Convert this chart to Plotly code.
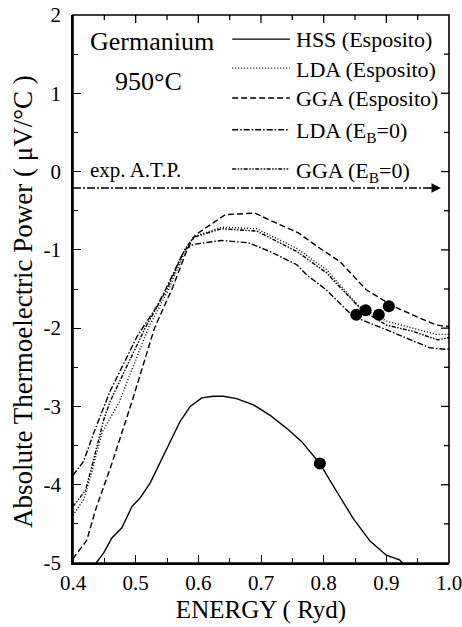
import plotly.graph_objects as go

# ---------------- data ----------------
HSS_X = [0.437, 0.449, 0.462, 0.478, 0.494, 0.507, 0.523, 0.550, 0.571, 0.587, 0.6055, 0.624, 0.640, 0.661,
         0.688, 0.714, 0.741, 0.765, 0.794, 0.821, 0.847, 0.874, 0.900, 0.921, 0.926]
HSS_Y = [-5.0, -4.87, -4.68, -4.55, -4.28, -4.17, -3.98, -3.53, -3.19, -3.0, -2.89, -2.87, -2.87, -2.90,
         -2.98, -3.11, -3.28, -3.45, -3.73, -4.09, -4.43, -4.72, -4.90, -4.96, -5.0]

LDA_ESP_X = [0.40, 0.417, 0.428, 0.446, 0.474, 0.520, 0.553, 0.580, 0.593, 0.637, 0.693, 0.757, 0.804,
             0.856, 0.900, 0.942, 0.980, 1.0]
LDA_ESP_Y = [-4.39, -4.19, -3.90, -3.34, -2.94, -2.0, -1.5, -1.0, -0.83, -0.71, -0.73, -0.98, -1.25,
             -1.72, -1.91, -2.00, -2.08, -2.08]

GGA_ESP_X = [0.40, 0.404, 0.422, 0.436, 0.462, 0.494, 0.530, 0.558, 0.582, 0.595, 0.643, 0.690, 0.725,
             0.759, 0.794, 0.826, 0.868, 0.911, 0.953, 0.980, 1.0]
GGA_ESP_Y = [-4.95, -4.90, -4.71, -4.32, -3.73, -2.94, -2.0, -1.5, -1.0, -0.81, -0.55, -0.53, -0.66,
             -0.78, -0.98, -1.15, -1.51, -1.72, -1.87, -1.96, -1.98]

LDA_EB0_X = [0.40, 0.417, 0.433, 0.454, 0.459, 0.502, 0.534, 0.548, 0.578, 0.592, 0.637, 0.680, 0.714,
             0.757, 0.773, 0.804, 0.847, 0.900, 0.926, 0.969, 0.993, 1.0]
LDA_EB0_Y = [-3.88, -3.70, -3.34, -2.92, -2.81, -2.11, -1.72, -1.5, -1.0, -0.93, -0.88, -0.91, -1.02,
             -1.19, -1.32, -1.51, -1.85, -2.02, -2.11, -2.25, -2.27, -2.27]

GGA_EB0_X = [0.40, 0.420, 0.430, 0.449, 0.459, 0.515, 0.550, 0.578, 0.592, 0.637, 0.693, 0.757, 0.804,
             0.861, 0.900, 0.942, 0.982, 1.0]
GGA_EB0_Y = [-4.28, -4.07, -3.77, -3.17, -2.94, -2.0, -1.5, -1.0, -0.84, -0.73, -0.76, -1.02, -1.29,
             -1.77, -1.96, -2.04, -2.15, -2.12]

DOT_X = [0.794, 0.852, 0.867, 0.888, 0.904]
DOT_Y = [-3.73, -1.83, -1.77, -1.83, -1.72]

EXP_X = [0.40, 0.975]
EXP_Y = [-0.21, -0.21]

X_RANGE = [0.4, 1.0]
Y_RANGE = [-5, 2]
X_TICKS = [0.4, 0.5, 0.6, 0.7, 0.8, 0.9, 1.0]
X_TICKTEXT = ["0.4", "0.5", "0.6", "0.7", "0.8", "0.9", "1.0"]
Y_TICKS = [-5, -4, -3, -2, -1, 0, 1, 2]
Y_TICKTEXT = ["-5", "-4", "-3", "-2", "-1", "0", "1", "2"]

LEGEND_LABELS = ["HSS (Esposito)", "LDA (Esposito)", "GGA (Esposito)",
                 "LDA (E<sub>B</sub>=0)", "GGA (E<sub>B</sub>=0)"]

# ---------------- styles ----------------
FONT = "Liberation Serif, Times New Roman, serif"
LW = 1.4
DASHES = ["solid", "1px,2px", "6px,3px", "6px,2px,1.5px,2px", "4px,1.5px,1.5px,1.5px,1.5px,1.5px"]
SERIES = [(HSS_X, HSS_Y), (LDA_ESP_X, LDA_ESP_Y), (GGA_ESP_X, GGA_ESP_Y),
          (LDA_EB0_X, LDA_EB0_Y), (GGA_EB0_X, GGA_EB0_Y)]

fig = go.Figure()
for (xs, ys), dash, name in zip(SERIES, DASHES, LEGEND_LABELS):
    fig.add_trace(go.Scatter(x=xs, y=ys, mode="lines", name=name,
                             line=dict(color="black", width=LW, dash=dash),
                             showlegend=False))

fig.add_trace(go.Scatter(x=EXP_X, y=EXP_Y, mode="lines", name="exp. A.T.P.",
                         line=dict(color="black", width=1.3, dash="8px,2px,2px,2px"),
                         showlegend=False))
fig.add_trace(go.Scatter(x=DOT_X, y=DOT_Y, mode="markers", name="points",
                         marker=dict(color="black", size=12), showlegend=False))

# arrow head at the end of the experimental line
fig.add_annotation(x=0.987, y=EXP_Y[-1], ax=0.965, ay=EXP_Y[-1], axref="x", ayref="y",
                   xref="x", yref="y", text="", showarrow=True, arrowhead=2,
                   arrowsize=1.7, arrowwidth=1.1, arrowcolor="black", standoff=0)

# manual legend
leg_y = [1.692, 1.322, 0.939, 0.534, 0.032]
txt_y = [1.683, 1.31, 0.93, 0.50, 0.00]
for lab, dash, ly, ty in zip(LEGEND_LABELS, DASHES, leg_y, txt_y):
    fig.add_shape(type="line", xref="x", yref="y", x0=0.654, x1=0.746, y0=ly, y1=ly,
                  line=dict(color="black", width=LW, dash=dash))
    fig.add_annotation(x=0.753, y=ty, xref="x", yref="y", text=lab, showarrow=False,
                       xanchor="left", yanchor="middle",
                       font=dict(family=FONT, size=22, color="black"))

fig.add_annotation(x=0.5256, y=1.66, xref="x", yref="y", text="Germanium", showarrow=False,
                   font=dict(family=FONT, size=26, color="black"))
fig.add_annotation(x=0.520, y=1.15, xref="x", yref="y", text="950°C", showarrow=False,
                   font=dict(family=FONT, size=26, color="black"))
fig.add_annotation(x=0.424, y=0.02, xref="x", yref="y", text="exp. A.T.P.", showarrow=False,
                   xanchor="left", font=dict(family=FONT, size=21, color="black"))

# y-axis title
fig.add_annotation(x=-0.133, y=0.478, xref="paper", yref="paper",
                   text="Absolute Thermoelectric Power ( μV/°C )",
                   showarrow=False, textangle=-90, xanchor="center", yanchor="middle",
                   font=dict(family=FONT, size=27, color="black"))

# frame box and the ticks on the top and right sides
FRAME = dict(color="black", width=1.6)
TICK = dict(color="black", width=1.3)
fig.add_shape(type="rect", xref="paper", yref="paper", x0=0, x1=1, y0=0, y1=1,
              line=FRAME, layer="above")
x_minor_pos = [(a + b) / 2 for a, b in zip(X_TICKS[:-1], X_TICKS[1:])]
y_minor_pos = [(a + b) / 2 for a, b in zip(Y_TICKS[:-1], Y_TICKS[1:])]
for pos, ln in [(v, 8) for v in X_TICKS[1:-1]] + [(v, 5) for v in x_minor_pos]:
    fig.add_shape(type="line", xref="x", yref="paper", ysizemode="pixel", yanchor=1,
                  x0=pos, x1=pos, y0=0, y1=-ln, line=TICK, layer="above")
for pos, ln in [(v, 8) for v in Y_TICKS[1:-1]] + [(v, 5) for v in y_minor_pos]:
    fig.add_shape(type="line", yref="y", xref="paper", xsizemode="pixel", xanchor=1,
                  y0=pos, y1=pos, x0=0, x1=-ln, line=TICK, layer="above")

fig.update_layout(
    width=462, height=627,
    margin=dict(l=73, r=13, t=15, b=64, autoexpand=False),
    paper_bgcolor="white", plot_bgcolor="white",
    font=dict(family=FONT, color="black"),
    xaxis=dict(range=X_RANGE, tickvals=X_TICKS, ticktext=X_TICKTEXT, automargin=False,
               ticks="inside", ticklen=8, tickwidth=1.3, tickcolor="black",
               minor=dict(dtick=0.05, tick0=0.4, ticks="inside", ticklen=5, tickwidth=1.3, tickcolor="black"),
               showline=True, linecolor="black", linewidth=1.6,
               showgrid=False, zeroline=False,
               tickfont=dict(family=FONT, size=21, color="black"), ticklabelstandoff=0,
               ticklabeloverflow="allow",
               title=dict(text="ENERGY ( Ryd)", font=dict(family=FONT, size=25, color="black"), standoff=6)),
    yaxis=dict(range=Y_RANGE, tickvals=Y_TICKS, ticktext=Y_TICKTEXT, automargin=False,
               ticks="inside", ticklen=8, tickwidth=1.3, tickcolor="black",
               minor=dict(dtick=0.5, tick0=0, ticks="inside", ticklen=5, tickwidth=1.3, tickcolor="black"),
               showline=True, linecolor="black", linewidth=1.6,
               showgrid=False, zeroline=False,
               tickfont=dict(family=FONT, size=21, color="black"), ticklabelstandoff=6,
               ticklabeloverflow="allow"),
)

# remove the browser's default 8px page margin so the figure fills the window exactly
fig.write_html("out.html", config={"displayModeBar": False},
               post_script="document.body.style.margin='0';")
